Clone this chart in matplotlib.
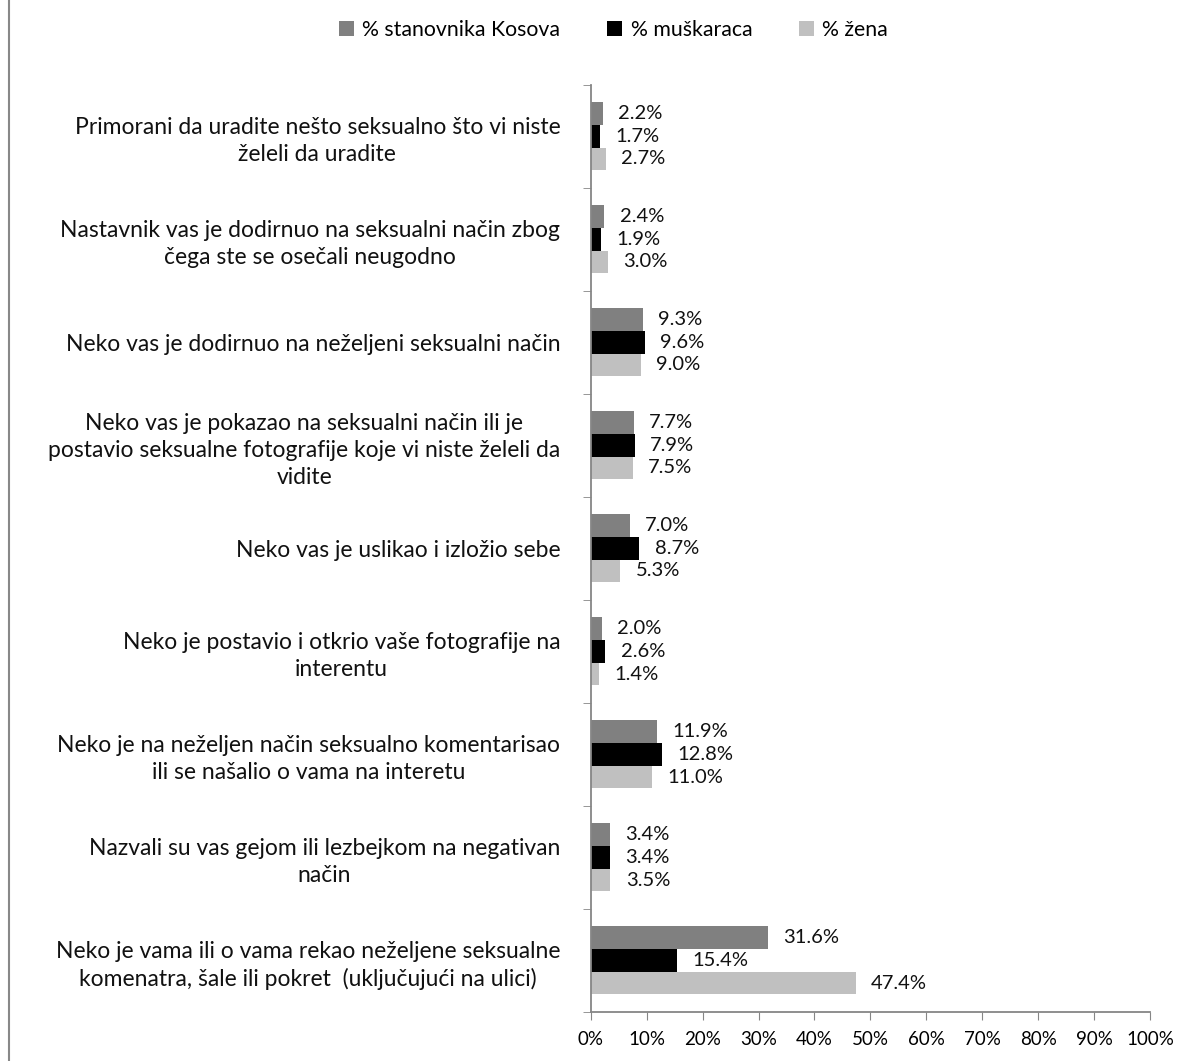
import matplotlib.pyplot as plt
import numpy as np
from matplotlib.lines import Line2D
from matplotlib.ticker import FixedLocator, PercentFormatter

plt.rcParams['font.family'] = ['Lato', 'DejaVu Sans']

categories = [
    'Primorani da uradite nešto seksualno što vi niste\nželeli da uradite',
    'Nastavnik vas je dodirnuo na seksualni način zbog\nčega ste se osečali neugodno',
    'Neko vas je dodirnuo na neželjeni seksualni način',
    'Neko vas je pokazao na seksualni način ili je\npostavio seksualne fotografije koje vi niste želeli da\nvidite',
    'Neko vas je uslikao i izložio sebe',
    'Neko je postavio i otkrio vaše fotografije na\ninterentu',
    'Neko je na neželjen način seksualno komentarisao\nili se našalio o vama na interetu',
    'Nazvali su vas gejom ili lezbejkom na negativan\nnačin',
    'Neko je vama ili o vama rekao neželjene seksualne\nkomenatra, šale ili pokret  (uključujući na ulici)',
]
kosovo = [2.2, 2.4, 9.3, 7.7, 7.0, 2.0, 11.9, 3.4, 31.6]
men = [1.7, 1.9, 9.6, 7.9, 8.7, 2.6, 12.8, 3.4, 15.4]
women = [2.7, 3.0, 9.0, 7.5, 5.3, 1.4, 11.0, 3.5, 47.4]
series_names = ['% stanovnika Kosova', '% muškaraca', '% žena']
colors = ['#808080', '#000000', '#c0c0c0']

fig = plt.figure(figsize=(11.96, 10.61), dpi=100)
ax = fig.add_axes([0.494, 0.0462, 0.4675, 0.874])

y = np.arange(len(categories))
h = 0.22
for i, (vals, name, col) in enumerate(zip([kosovo, men, women], series_names, colors)):
    bars = ax.barh(y + (i - 1) * h, vals, height=h, color=col, label=name)
    for b, v in zip(bars, vals):
        ax.annotate(f'{v:.1f}%', (b.get_width(), b.get_y() + b.get_height() / 2),
                    xytext=(11, 0), textcoords='offset points',
                    ha='left', va='center', fontsize=14.5, color='#111111')

ax.set_xlim(0, 100)
ax.set_ylim(len(categories) - 0.5, -0.5)
ax.set_xticks(np.arange(0, 101, 10))
ax.xaxis.set_major_formatter(PercentFormatter(decimals=0))
ax.set_yticks(y)
ax.set_yticklabels(categories, fontsize=16.5, multialignment='center',
                   linespacing=1.35, color='#111111')
ax.yaxis.set_minor_locator(FixedLocator(np.arange(-0.5, len(categories), 1)))
ax.tick_params(axis='y', which='major', length=0, pad=22)
ax.tick_params(axis='y', which='minor', length=6, color='#868686', direction='out')
ax.tick_params(axis='x', length=6, color='#868686', labelsize=13.5, pad=8)

for s in ['top', 'right']:
    ax.spines[s].set_visible(False)
for s in ['left', 'bottom']:
    ax.spines[s].set_color('#868686')
    ax.spines[s].set_linewidth(1.3)

fig.legend(loc='center', bbox_to_anchor=(0.513, 0.972), ncol=3, frameon=False,
           fontsize=15.3, handlelength=0.7, handleheight=0.7, handletextpad=0.4,
           columnspacing=2.2)

fig.add_artist(Line2D([0.0075, 0.0075], [0, 1], color='#888888', lw=1.5,
                      transform=fig.transFigure))

fig.savefig('out.png', dpi=100)
